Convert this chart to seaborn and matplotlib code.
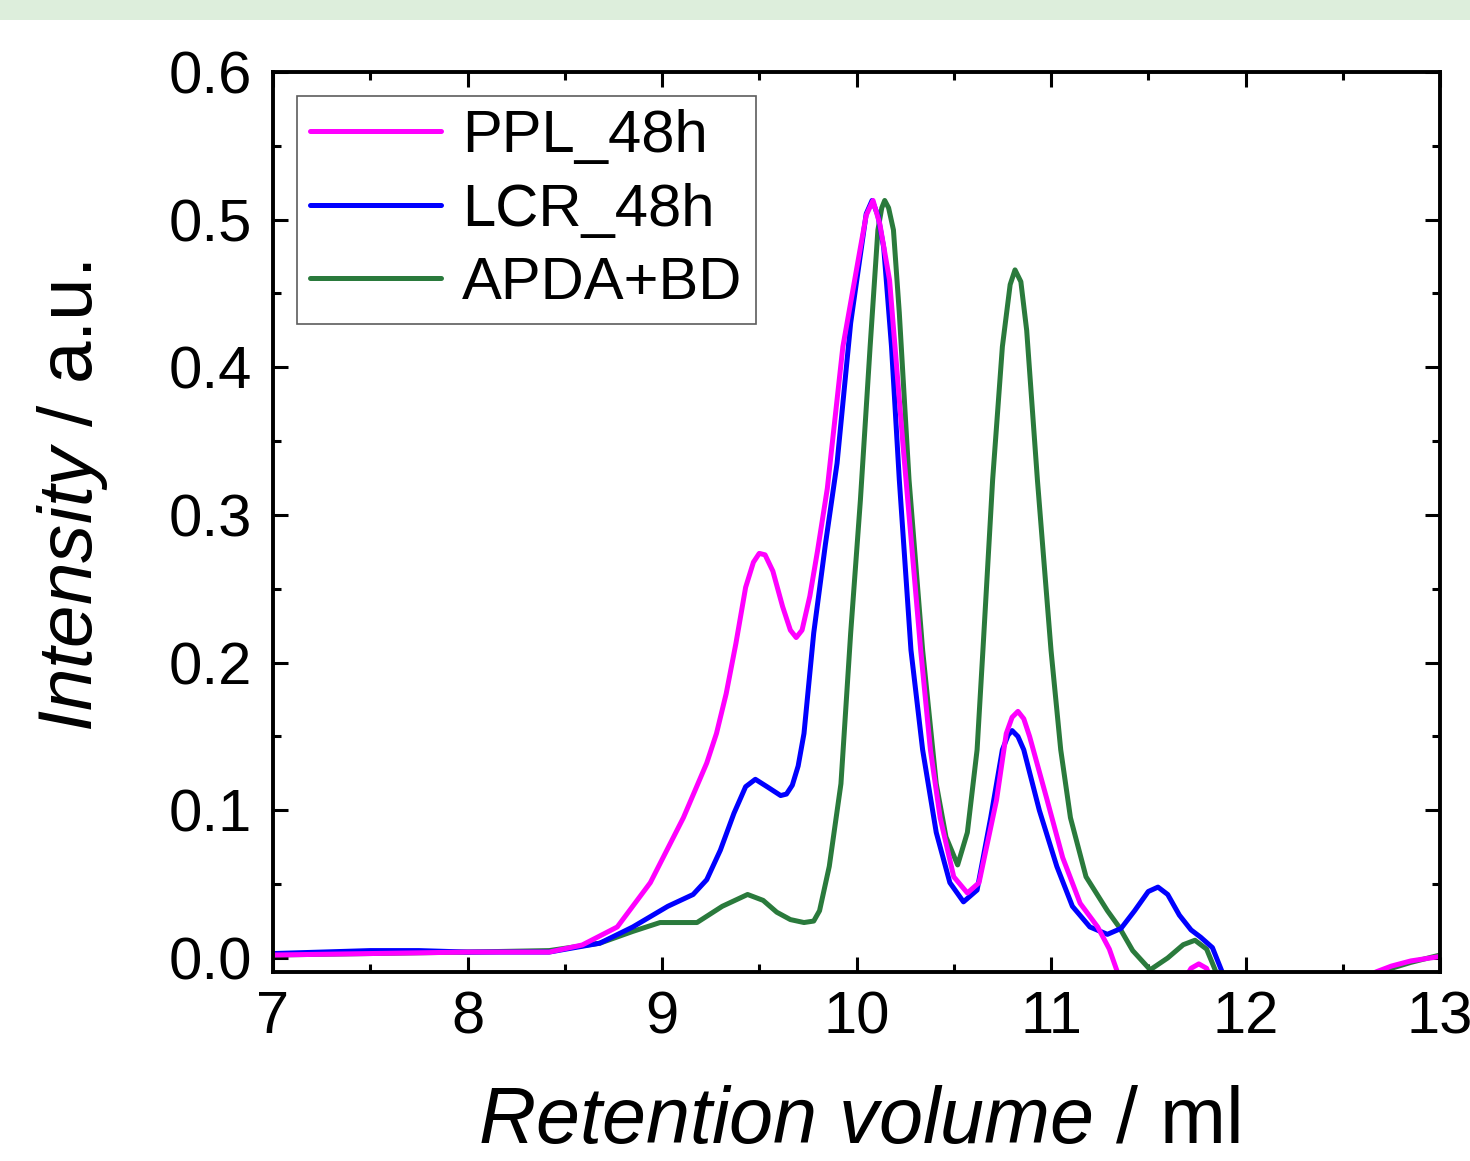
import numpy as np
import pandas as pd
import matplotlib
matplotlib.use("Agg")
import matplotlib.pyplot as plt
import seaborn as sns
from matplotlib.patches import Rectangle
from matplotlib.ticker import MultipleLocator

# --- data ---
vol_ppl = [7.0, 7.5, 8.0, 8.42, 8.59, 8.77, 8.94, 9.11, 9.23, 9.28, 9.33, 9.38, 9.43, 9.47,
           9.50, 9.53, 9.57, 9.62, 9.66, 9.69, 9.72, 9.76, 9.80, 9.85, 9.93, 10.02, 10.05,
           10.085, 10.12, 10.17, 10.24, 10.33, 10.38, 10.43, 10.50, 10.57, 10.63, 10.72,
           10.77, 10.80, 10.83, 10.86, 10.89, 10.98, 11.06, 11.15, 11.24, 11.30, 11.34,
           11.40, 11.55, 11.68, 11.72, 11.76, 11.80, 11.84, 12.0, 12.4, 12.6, 12.67, 12.75,
           12.85, 13.0]
int_ppl = [0.002, 0.003, 0.004, 0.004, 0.0088, 0.021, 0.051, 0.095, 0.132, 0.152, 0.179, 0.213,
           0.251, 0.268, 0.274, 0.273, 0.262, 0.238, 0.222, 0.217, 0.222, 0.245, 0.276, 0.318,
           0.414, 0.481, 0.503, 0.513, 0.497, 0.459, 0.346, 0.2085, 0.141, 0.095, 0.055, 0.044,
           0.051, 0.107, 0.152, 0.163, 0.167, 0.162, 0.150, 0.107, 0.068, 0.037, 0.021, 0.006,
           -0.009, -0.022, -0.035, -0.016, -0.007, -0.004, -0.007, -0.02, -0.04, -0.035,
           -0.016, -0.0095, -0.0055, -0.002, 0.001]

vol_lcr = [7.0, 7.5, 7.75, 8.0, 8.42, 8.68, 8.85, 9.03, 9.16, 9.23, 9.30, 9.37, 9.43, 9.48,
           9.54, 9.61, 9.64, 9.67, 9.70, 9.73, 9.78, 9.84, 9.90, 9.97, 10.05, 10.08, 10.11,
           10.14, 10.18, 10.22, 10.28, 10.34, 10.41, 10.48, 10.55, 10.62, 10.69, 10.75, 10.78,
           10.80, 10.83, 10.86, 10.94, 11.03, 11.11, 11.20, 11.29, 11.36, 11.43, 11.50, 11.55,
           11.60, 11.66, 11.72, 11.77, 11.83, 11.88, 11.95, 12.2, 12.6, 13.0]
int_lcr = [0.003, 0.005, 0.005, 0.004, 0.004, 0.010, 0.021, 0.035, 0.043, 0.053, 0.073, 0.098,
           0.116, 0.121, 0.116, 0.110, 0.111, 0.117, 0.130, 0.152, 0.22, 0.28, 0.335, 0.43,
           0.504, 0.513, 0.503, 0.481, 0.414, 0.324, 0.2085, 0.141, 0.085, 0.051, 0.038, 0.046,
           0.095, 0.141, 0.151, 0.154, 0.150, 0.141, 0.100, 0.062, 0.035, 0.021, 0.016, 0.020,
           0.032, 0.045, 0.048, 0.043, 0.029, 0.019, 0.014, 0.007, -0.0095, -0.025, -0.035,
           -0.025, -0.011]

vol_apda = [7.0, 7.5, 8.0, 8.42, 8.68, 8.85, 8.99, 9.09, 9.18, 9.31, 9.44, 9.52, 9.59, 9.66,
            9.73, 9.78, 9.81, 9.86, 9.92, 9.97, 10.02, 10.07, 10.11, 10.13, 10.145, 10.165,
            10.19, 10.22, 10.27, 10.34, 10.41, 10.46, 10.52, 10.57, 10.62, 10.65, 10.70, 10.75,
            10.79, 10.815, 10.845, 10.875, 10.93, 11.0, 11.05, 11.10, 11.18, 11.29, 11.35,
            11.42, 11.51, 11.60, 11.68, 11.74, 11.80, 11.85, 11.92, 12.3, 12.6, 12.7, 12.85,
            13.0]
int_apda = [0.002, 0.003, 0.004, 0.005, 0.010, 0.018, 0.024, 0.024, 0.024, 0.035, 0.043, 0.039,
            0.031, 0.026, 0.024, 0.025, 0.032, 0.062, 0.118, 0.220, 0.310, 0.414, 0.493, 0.508,
            0.513, 0.508, 0.493, 0.437, 0.324, 0.2085, 0.118, 0.082, 0.063, 0.085, 0.141,
            0.2085, 0.324, 0.414, 0.456, 0.466, 0.458, 0.425, 0.324, 0.2085, 0.141, 0.095,
            0.055, 0.032, 0.021, 0.005, -0.008, 0.000, 0.009, 0.012, 0.006, -0.01, -0.03,
            -0.035, -0.018, -0.009, -0.003, 0.002]

labels = ["PPL_48h", "LCR_48h", "APDA+BD"]
colors = ["#ff00ff", "#0000ff", "#2a7a3c"]

df = pd.concat([
    pd.DataFrame({"vol": vol_ppl, "intensity": int_ppl, "sample": labels[0]}),
    pd.DataFrame({"vol": vol_lcr, "intensity": int_lcr, "sample": labels[1]}),
    pd.DataFrame({"vol": vol_apda, "intensity": int_apda, "sample": labels[2]}),
], ignore_index=True)

sns.set_theme(style="ticks")
plt.rcParams["font.family"] = ["Liberation Sans", "DejaVu Sans"]
plt.rcParams["mathtext.fontset"] = "custom"
plt.rcParams["mathtext.rm"] = "Liberation Sans"
plt.rcParams["mathtext.it"] = "Liberation Sans:italic"
for key in ["text.color", "axes.labelcolor", "xtick.color", "ytick.color", "axes.edgecolor"]:
    plt.rcParams[key] = "black"

fig = plt.figure(figsize=(14.7, 11.61), dpi=100)
fig.patches.append(Rectangle((0, 1 - 20 / 1161), 1, 20 / 1161, transform=fig.transFigure,
                             facecolor="#ddeedc", edgecolor="none", zorder=0))
ax = fig.add_axes([273 / 1470, 1 - 972 / 1161, (1440 - 273) / 1470, 900 / 1161])

sns.lineplot(data=df, x="vol", y="intensity", hue="sample", hue_order=labels,
             palette=colors, estimator=None, sort=False, linewidth=3.6, ax=ax)

# magenta on top, then blue, then green
for line, z in zip(ax.get_lines()[:3], [2.3, 2.2, 2.1]):
    line.set_zorder(z)
    line.set_solid_joinstyle("round")

ax.set_xlim(7, 13)
ax.set_ylim(-0.0095, 0.6)
ax.xaxis.set_major_locator(MultipleLocator(1))
ax.xaxis.set_minor_locator(MultipleLocator(0.5))
ax.yaxis.set_major_locator(MultipleLocator(0.1))
ax.yaxis.set_minor_locator(MultipleLocator(0.05))
ax.yaxis.set_major_formatter(plt.FormatStrFormatter("%.1f"))

for s in ax.spines.values():
    s.set_linewidth(2.8)
    s.set_color("black")
ax.tick_params(which="both", direction="in", top=True, right=True, width=2.2, color="black")
ax.tick_params(which="major", length=11, labelsize=43, pad=13)
ax.tick_params(which="minor", length=5.5)
ax.tick_params(axis="y", which="major", pad=15)

ax.set_xlabel(r"$\mathit{Retention\ volume}$ / ml", fontsize=57)
ax.set_ylabel(r"$\mathit{Intensity}$ / a.u.", fontsize=55)
ax.xaxis.set_label_coords(0.502, -0.126)
ax.yaxis.set_label_coords(-0.14, 0.528)

leg = ax.legend(loc="upper left", fontsize=43, frameon=True, fancybox=False,
                handlelength=2.2, handletextpad=0.35, labelspacing=0.31,
                borderaxespad=0.4, borderpad=0.22)
leg.get_frame().set_edgecolor("#333333")
leg.get_frame().set_linewidth(1.2)
for h in leg.get_lines():
    h.set_linewidth(3.6)

fig.savefig("out.png", dpi=100)
